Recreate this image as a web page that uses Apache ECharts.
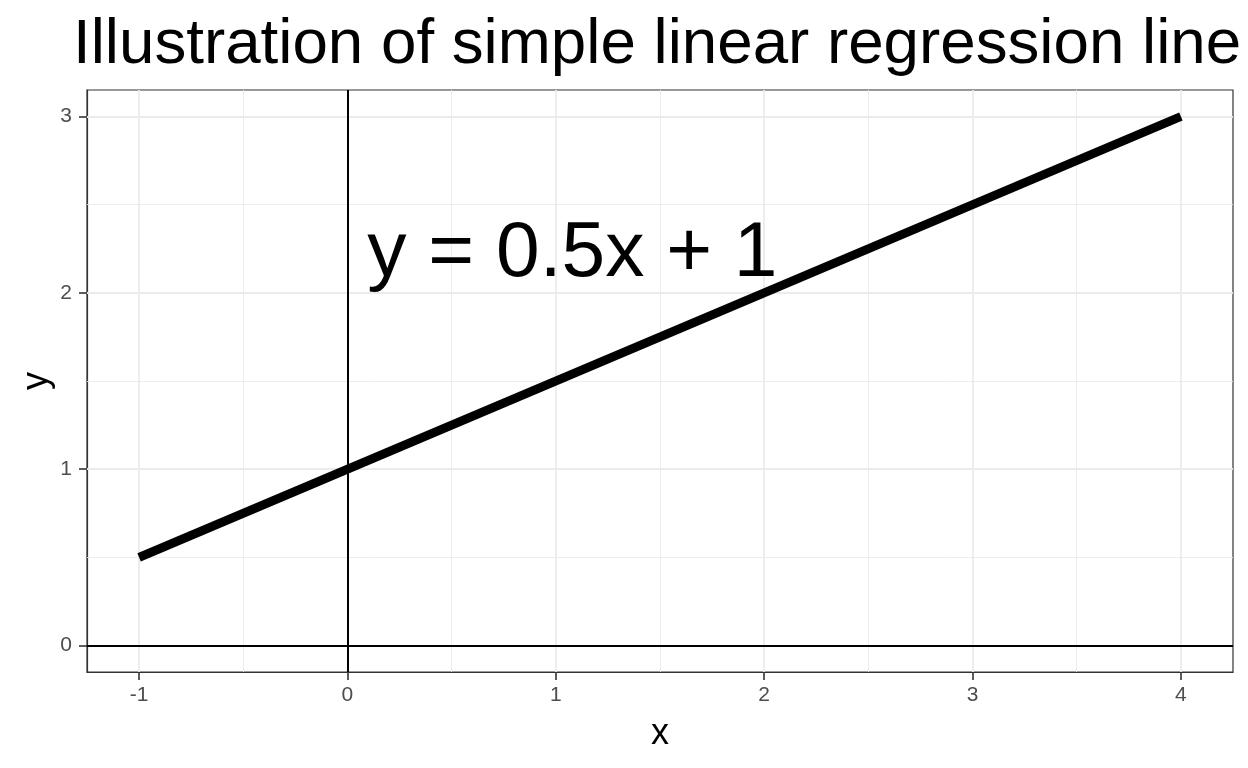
<!DOCTYPE html>
<html>
<head>
<meta charset="utf-8">
<script src="https://cdn.jsdelivr.net/npm/echarts@6/dist/echarts.min.js"></script>
<style>html,body{margin:0;padding:0;background:#fff}#c{width:1248px;height:768px}</style>
</head>
<body>
<div id="c"></div>
<script>
const titleText = 'Illustration of simple linear regression line';
const lineX = [-1, 4];
const lineY = [0.5, 3];
const annotation = { x: 0.1, y: 2.25, text: 'y = 0.5x + 1' };
const xBreaks = [-1, 0, 1, 2, 3, 4];
const xMinorBreaks = [-0.5, 0.5, 1.5, 2.5, 3.5];
const yBreaks = [0, 1, 2, 3];
const yMinorBreaks = [0.5, 1.5, 2.5];
const xRange = [-1.25, 4.25];
const yRange = [-0.15, 3.15];
const refH = 0, refV = 0;

const FONT = 'Liberation Sans, Arial, Helvetica, sans-serif';
const chart = echarts.init(document.getElementById('c'), null, { renderer: 'canvas' });

const gridLines = [];
xMinorBreaks.forEach(v => gridLines.push({ xAxis: v, lineStyle: { color: '#EBEBEB', width: 0.9 } }));
yMinorBreaks.forEach(v => gridLines.push({ yAxis: v, lineStyle: { color: '#EBEBEB', width: 0.9 } }));
xBreaks.forEach(v => gridLines.push({ xAxis: v, lineStyle: { color: '#EBEBEB', width: 1.8 } }));
yBreaks.forEach(v => gridLines.push({ yAxis: v, lineStyle: { color: '#EBEBEB', width: 1.8 } }));

const axisCommon = {
  axisLine: { show: true, onZero: false, lineStyle: { color: '#333333', width: 1.2 } },
  splitLine: { show: false },
  nameMoveOverlap: false
};

chart.setOption({
  animation: false,
  backgroundColor: '#ffffff',
  title: {
    text: titleText,
    left: 68, top: 8,
    textStyle: { fontFamily: FONT, fontSize: 63.7, fontWeight: 'normal', color: '#000' }
  },
  grid: {
    left: 87, right: 15, top: 90, bottom: 96,
    show: true, borderColor: '#333333', borderWidth: 1.2, backgroundColor: '#fff'
  },
  xAxis: Object.assign({
    type: 'value', min: xRange[0], max: xRange[1], splitNumber: 5,
    name: 'x', nameLocation: 'middle', nameGap: 44,
    nameTextStyle: { fontFamily: FONT, fontSize: 36, color: '#000' },
    axisTick: { show: true, inside: false, length: 8, customValues: xBreaks, lineStyle: { color: '#333333', width: 1.6 } },
    axisLabel: { customValues: xBreaks, margin: 13,
      fontFamily: FONT, fontSize: 21, color: '#4D4D4D' }
  }, axisCommon),
  yAxis: Object.assign({
    type: 'value', min: yRange[0], max: yRange[1], splitNumber: 3,
    name: 'y', nameLocation: 'middle', nameGap: 32,
    nameTextStyle: { fontFamily: FONT, fontSize: 36, color: '#000' },
    axisTick: { show: true, inside: false, length: 8, customValues: yBreaks, lineStyle: { color: '#333333', width: 1.6 } },
    axisLabel: { customValues: yBreaks, margin: 15,
      fontFamily: FONT, fontSize: 21, color: '#4D4D4D' }
  }, axisCommon),
  series: [
    {
      type: 'line', data: [], z: 1, silent: true,
      markLine: { z: 1, silent: true, symbol: 'none', label: { show: false }, animation: false,
        lineStyle: { type: 'solid' }, data: gridLines }
    },
    {
      type: 'line', data: [], z: 2, silent: true,
      markLine: { z: 2, silent: true, symbol: 'none', label: { show: false }, animation: false,
        lineStyle: { type: 'solid', color: '#000', width: 2 },
        data: [{ yAxis: refH }, { xAxis: refV }] }
    },
    {
      type: 'line', z: 3, silent: true, showSymbol: false,
      data: lineX.map((x, i) => [x, lineY[i]]),
      lineStyle: { color: '#000', width: 8.8, cap: 'butt' }
    },
    {
      type: 'scatter', z: 4, silent: true, symbolSize: 0,
      itemStyle: { opacity: 1, color: '#000' },
      data: [[annotation.x, annotation.y]],
      label: { show: true, position: 'right', distance: 0, offset: [-1, 6], formatter: annotation.text,
        fontFamily: FONT, fontSize: 78.5, color: '#000', opacity: 1 }
    }
  ]
});
</script>
</body>
</html>
